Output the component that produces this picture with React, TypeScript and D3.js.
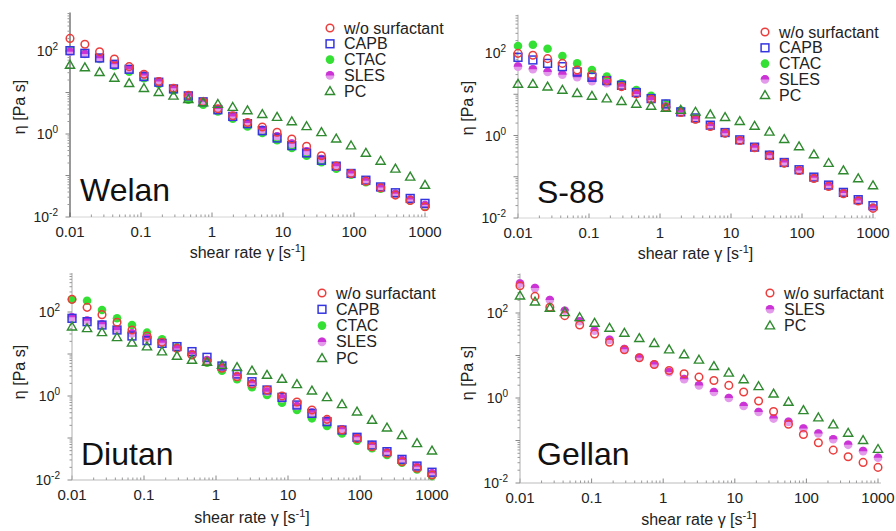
import React from 'react';
import * as d3 from 'd3';

// shear rate values (s^-1)
const shearRate = [0.01, 0.0162, 0.0261, 0.0422, 0.0681, 0.110, 0.178, 0.287, 0.464, 0.750, 1.21, 1.96, 3.16, 5.11, 8.25, 13.3, 21.5, 34.8, 56.2, 90.9, 147, 237, 383, 619, 1000];

const xTickLabels = ['0.01', '0.1', '1', '10', '100', '1000'];
const xTickValues = [0.01, 0.1, 1, 10, 100, 1000];
const yTickValues = [0.01, 1, 100];
const yTickExponents = ['-2', '0', '2'];

const panelNames = ['Welan', 'S-88', 'Diutan', 'Gellan'];
const legendFull = ['w/o surfactant', 'CAPB', 'CTAC', 'SLES', 'PC'];
const legendGellan = ['w/o surfactant', 'SLES', 'PC'];

// Welan
const welanWO = [201, 145, 96, 64, 42, 27.5, 18.4, 12.7, 8.6, 5.97, 4.06, 2.75, 1.9, 1.47, 1.10, 0.76, 0.506, 0.30, 0.168, 0.112, 0.073, 0.0506, 0.0337, 0.0251, 0.0177];
const welanCAPB = [102, 88, 68, 47.9, 36.3, 24.2, 17.7, 12.2, 8.3, 5.97, 3.84, 2.65, 1.77, 1.20, 0.80, 0.525, 0.35, 0.233, 0.168, 0.112, 0.077, 0.053, 0.0384, 0.028, 0.0213];
const welanCTAC = [102, 88, 64, 43.7, 31.9, 22.1, 16.1, 11.2, 6.67, 5.06, 3.5, 2.33, 1.53, 1.06, 0.705, 0.461, 0.30, 0.209, 0.145, 0.104, 0.069, 0.048, 0.0344, 0.0251, 0.0177];
const welanSLES = [96, 85, 67, 47.9, 36.3, 25.6, 18.4, 12.7, 8.3, 5.97, 3.98, 2.65, 1.84, 1.27, 0.88, 0.586, 0.384, 0.25, 0.168, 0.112, 0.0745, 0.0515, 0.0363, 0.0265, 0.0194];
const welanPC = [46, 40, 30.8, 22.5, 16.7, 12.7, 10.2, 8.3, 6.9, 5.75, 5.25, 4.45, 3.7, 3.0, 2.56, 2.01, 1.53, 1.10, 0.77, 0.525, 0.35, 0.225, 0.145, 0.093, 0.059];

// S-88
const s88WO = [98, 88, 73, 56, 38.8, 29.9, 21.4, 15.3, 10.2, 7.57, 4.84, 3.6, 2.48, 1.65, 1.14, 0.757, 0.503, 0.322, 0.214, 0.142, 0.091, 0.0583, 0.0388, 0.0258, 0.0171];
const s88CAPB = [78.5, 67.8, 56, 46.7, 34.7, 25.8, 21.4, 16.5, 11, 7.85, 5.83, 3.74, 2.67, 1.78, 1.18, 0.785, 0.522, 0.334, 0.222, 0.148, 0.098, 0.0628, 0.0418, 0.0278, 0.0199];
const s88CTAC = [148, 159, 127, 84.6, 56, 38.8, 26.7, 18.4, 12.7, 9.12, 5.83, 4.03, 2.48, 1.71, 1.14, 0.757, 0.503, 0.334, 0.214, 0.142, 0.0946, 0.0605, 0.0403, 0.0267, 0.0178];
const s88SLES = [46.7, 40.3, 34.7, 29.9, 25.8, 20.6, 18.5, 15.3, 10.2, 7.3, 5.04, 3.6, 2.48, 1.71, 1.14, 0.757, 0.503, 0.334, 0.222, 0.142, 0.0946, 0.0605, 0.0403, 0.0267, 0.0178];
const s88PC = [17.8, 17.8, 15.3, 12.7, 10.6, 9.12, 7.85, 6.78, 5.83, 5.22, 4.67, 4.18, 3.74, 3.22, 2.78, 2.22, 1.71, 1.23, 0.815, 0.542, 0.347, 0.214, 0.142, 0.0912, 0.0617];

// Diutan
const diutanWO = [200, 129, 86.4, 56.8, 37.3, 26.8, 19, 13.6, 9.47, 6.56, 4.56, 2.88, 1.93, 1.39, 1.0, 0.72, 0.464, 0.278, 0.155, 0.0964, 0.0622, 0.0432, 0.0273, 0.019, 0.0131];
const diutanCAPB = [70.7, 58.9, 49, 37.3, 26.8, 20.8, 17.9, 15, 11.4, 8.34, 5.18, 3.34, 2.19, 1.39, 0.93, 0.611, 0.386, 0.245, 0.155, 0.104, 0.068, 0.0473, 0.031, 0.0215, 0.0153];
const diutanCTAC = [200, 186, 112, 70.7, 49, 32.2, 22.3, 14.4, 9.47, 6.22, 4.01, 2.5, 1.61, 1.06, 0.693, 0.464, 0.294, 0.193, 0.129, 0.0865, 0.0568, 0.0394, 0.0259, 0.0179, 0.0124];
const diutanSLES = [74.7, 62.2, 50.9, 37.3, 31, 23.6, 18.6, 13.6, 10, 7.2, 4.82, 2.99, 2.0, 1.27, 0.879, 0.578, 0.401, 0.259, 0.161, 0.104, 0.068, 0.0456, 0.0299, 0.0207, 0.0144];
const diutanPC = [44.8, 40.8, 32.8, 24.9, 18.6, 15, 11.4, 8.96, 7.2, 6.45, 5.47, 4.82, 4.01, 3.16, 2.54, 1.9, 1.34, 0.93, 0.634, 0.424, 0.268, 0.176, 0.116, 0.0747, 0.0499];

// Gellan
const gellanWO = [437, 246, 136, 86.6, 52.3, 32.2, 20.5, 13.6, 8.82, 6.15, 4.45, 3.72, 3.1, 2.59, 1.98, 1.38, 0.851, 0.479, 0.242, 0.138, 0.0882, 0.0593, 0.0414, 0.0305, 0.0233];
const gellanSLES = [495, 385, 202, 113, 63.8, 38.5, 23.3, 14.1, 8.82, 6.15, 4.07, 2.78, 1.98, 1.38, 1.0, 0.649, 0.47, 0.328, 0.274, 0.191, 0.146, 0.107, 0.0791, 0.0562, 0.0393];
const gellanPC = [255, 185, 131, 104, 79.1, 58.3, 44.5, 34, 25.5, 19.5, 13.8, 10.6, 7.91, 5.62, 3.92, 2.74, 1.88, 1.26, 0.806, 0.514, 0.346, 0.237, 0.151, 0.102, 0.0627];

type Kind = 'wo' | 'capb' | 'ctac' | 'sles' | 'pc';
const kindOf: Record<string, Kind> = {
  'w/o surfactant': 'wo', CAPB: 'capb', CTAC: 'ctac', SLES: 'sles', PC: 'pc',
};

const panelSeries: Record<string, Partial<Record<Kind, number[]>>> = {
  Welan: { ctac: welanCTAC, sles: welanSLES, capb: welanCAPB, wo: welanWO, pc: welanPC },
  'S-88': { ctac: s88CTAC, sles: s88SLES, capb: s88CAPB, wo: s88WO, pc: s88PC },
  Diutan: { ctac: diutanCTAC, sles: diutanSLES, capb: diutanCAPB, wo: diutanWO, pc: diutanPC },
  Gellan: { sles: gellanSLES, wo: gellanWO, pc: gellanPC },
};
const drawOrder: Kind[] = ['ctac', 'sles', 'capb', 'wo', 'pc'];

// layout (pixel geometry)
const layouts = [
  { x0: 70, x1: 425, yb: 217, y2: 51, yAxisColor: '#555', xAxisColor: '#d4d4d4', title: [80, 201], legend: [330, 28, 15.8], ylab: [25, 107], xlab: 258 },
  { x0: 518, x1: 873, yb: 218, y2: 53, yAxisColor: '#bbb', xAxisColor: '#d4d4d4', title: [537, 203], legend: [765, 32, 15.8], ylab: [473, 108], xlab: 259 },
  { x0: 72, x1: 432, yb: 480, y2: 312, yAxisColor: '#bbb', xAxisColor: '#bbb', title: [81, 465], legend: [322, 293, 16.3], ylab: [25, 372], xlab: 523 },
  { x0: 520, x1: 878, yb: 483, y2: 313, yAxisColor: '#bbb', xAxisColor: '#bbb', title: [537, 465], legend: [770, 293, 16.3], ylab: [473, 373], xlab: 525 },
];

const COLORS: Record<Kind, string> = {
  wo: '#ec3d3d',
  capb: '#3535e0',
  ctac: '#35e035',
  sles: '#cc33d6',
  pc: '#2f8a2f',
};

const FONT = "'Liberation Sans', Arial, Helvetica, sans-serif";

function Marker({ kind, x, y }: { kind: Kind; x: number; y: number }) {
  const c = COLORS[kind];
  switch (kind) {
    case 'wo':
      return <circle cx={x} cy={y} r={3.8} fill="none" stroke={c} strokeWidth={1.5} />;
    case 'capb':
      return <rect x={x - 3.9} y={y - 3.9} width={7.8} height={7.8} fill="none" stroke={c} strokeWidth={1.5} />;
    case 'ctac':
      return <circle cx={x} cy={y} r={4.3} fill={c} />;
    case 'sles':
      return (
        <g>
          <circle cx={x} cy={y} r={4.3} fill="#e39aeb" />
          <path d={`M${x - 4.3},${y} A4.3,4.3 0 0 1 ${x + 4.3},${y} Z`} fill={c} />
        </g>
      );
    case 'pc':
      return (
        <path
          d={`M${x},${y - 4.6} L${x + 4.6},${y + 3.3} L${x - 4.6},${y + 3.3} Z`}
          fill="none"
          stroke={c}
          strokeWidth={1.4}
        />
      );
  }
}

function Panel({ idx }: { idx: number }) {
  const L = layouts[idx];
  const name = panelNames[idx];
  const series = panelSeries[name];
  const legend = name === 'Gellan' ? legendGellan : legendFull;
  const x = d3.scaleLog().domain([0.01, 1000]).range([L.x0, L.x1]);
  const dec = (L.yb - L.y2) / 4;
  const y = d3.scaleLog().domain([0.01, 1000]).range([L.yb, L.y2 - dec]);
  const yTop = y(Math.pow(10, 2.93));

  const xMinor: number[] = [];
  for (let e = -2; e < 3; e++) for (let m = 2; m <= 9; m++) xMinor.push(m * Math.pow(10, e));
  const yMinor: number[] = [];
  for (let e = -2; e < 3; e++) for (let m = 2; m <= 9; m++) {
    const v = m * Math.pow(10, e);
    if (y(v) >= yTop) yMinor.push(v);
  }
  const yMajor = [0.01, 0.1, 1, 10, 100];

  return (
    <g fontFamily={FONT}>
      {/* x axis */}
      <line x1={L.x0} x2={L.x1 + 3} y1={L.yb} y2={L.yb} stroke={L.xAxisColor} strokeWidth={1} />
      {xMinor.map((v, i) => (
        <line key={'xm' + i} x1={x(v)} x2={x(v)} y1={L.yb} y2={L.yb - 2.5} stroke="#999" strokeWidth={1} />
      ))}
      {xTickValues.map((v, i) => (
        <line key={'xM' + i} x1={x(v)} x2={x(v)} y1={L.yb} y2={L.yb - 4.5} stroke="#888" strokeWidth={1} />
      ))}
      {/* y axis */}
      <line x1={L.x0} x2={L.x0} y1={L.yb} y2={yTop} stroke={L.yAxisColor} strokeWidth={1.2} />
      {yMinor.map((v, i) => (
        <line key={'ym' + i} x1={L.x0} x2={L.x0 - 2.5} y1={y(v)} y2={y(v)} stroke="#999" strokeWidth={1} />
      ))}
      {yMajor.map((v, i) => (
        <line key={'yM' + i} x1={L.x0} x2={L.x0 - 4.5} y1={y(v)} y2={y(v)} stroke="#888" strokeWidth={1} />
      ))}
      {/* tick labels */}
      {xTickValues.map((v, i) => (
        <text key={'xl' + i} x={x(v)} y={L.yb + 20} textAnchor="middle" fontSize={15} fill="#222">
          {xTickLabels[i]}
        </text>
      ))}
      {yTickValues.map((v, i) => (
        <text key={'yl' + i} x={L.x0 - 12} y={y(v) + 5} textAnchor="end" fontSize={14} fill="#222">
          10
          <tspan dy={-6} fontSize={10}>{yTickExponents[i]}</tspan>
        </text>
      ))}
      {/* axis titles */}
      <text x={(L.x0 + L.x1) / 2} y={L.xlab} textAnchor="middle" fontSize={16} fill="#222">
        shear rate γ [s
        <tspan dy={-6} fontSize={11}>-1</tspan>
        <tspan dy={6}>]</tspan>
      </text>
      <text
        transform={`translate(${L.ylab[0]},${L.ylab[1]}) rotate(-90)`}
        textAnchor="middle"
        fontSize={16}
        fill="#222"
      >
        η [Pa s]
      </text>
      {/* panel title */}
      <text x={L.title[0]} y={L.title[1]} fontSize={32} fill="#111">
        {name}
      </text>
      {/* data */}
      {drawOrder.map((k) => {
        const vals = series[k];
        if (!vals) return null;
        return (
          <g key={k}>
            {vals.map((v, i) => (
              <Marker key={i} kind={k} x={x(shearRate[i])} y={y(v)} />
            ))}
          </g>
        );
      })}
      {/* legend */}
      {legend.map((lab, i) => {
        const ly = L.legend[1] + i * L.legend[2];
        return (
          <g key={lab}>
            <Marker kind={kindOf[lab]} x={L.legend[0]} y={ly} />
            <text x={L.legend[0] + 14} y={ly + 5.5} fontSize={16} fill="#222">
              {lab}
            </text>
          </g>
        );
      })}
    </g>
  );
}

export default function App() {
  return (
    <svg
      width={896}
      height={531}
      style={{ position: 'absolute', left: 0, top: 0, background: '#fff' }}
    >
      <rect width={896} height={531} fill="#fff" />
      {[0, 1, 2, 3].map((i) => (
        <Panel key={i} idx={i} />
      ))}
    </svg>
  );
}
